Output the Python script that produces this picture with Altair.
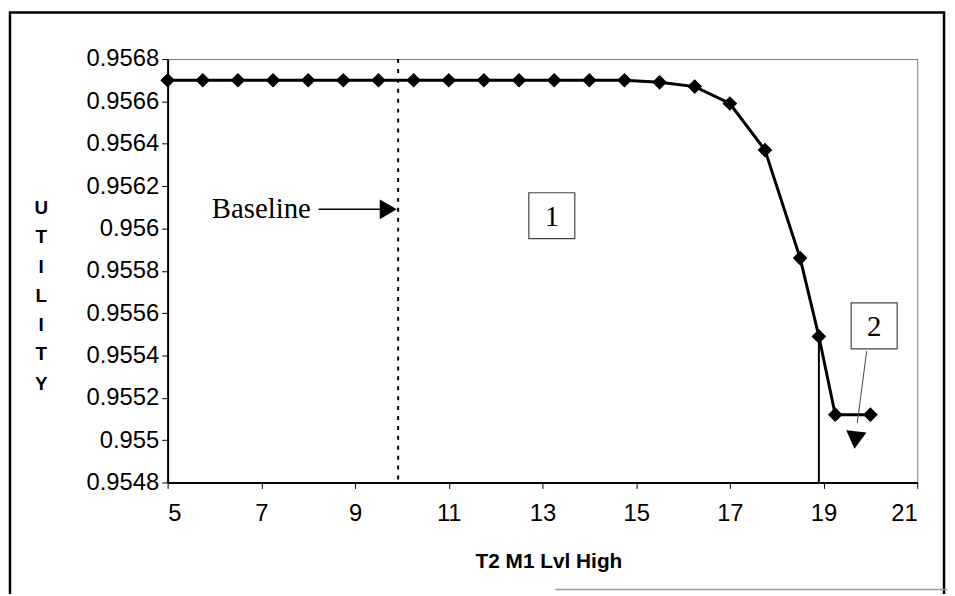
import altair as alt
import pandas as pd

# ---- data ----
x_vals = [5, 5.75, 6.5, 7.25, 8, 8.75, 9.5, 10.25, 11, 11.75, 12.5, 13.25, 14,
          14.75, 15.5, 16.25, 17, 17.75, 18.5, 18.9, 19.25, 20]
utility = [0.95670, 0.95670, 0.95670, 0.95670, 0.95670, 0.95670, 0.95670, 0.95670,
           0.95670, 0.95670, 0.95670, 0.95670, 0.95670, 0.95670, 0.95669, 0.95667,
           0.95659, 0.95637, 0.95586, 0.95549, 0.95512, 0.95512]

x_ticks = [5, 7, 9, 11, 13, 15, 17, 19, 21]
y_ticks = [0.9548, 0.955, 0.9552, 0.9554, 0.9556, 0.9558, 0.956, 0.9562, 0.9564, 0.9566, 0.9568]

baseline_x = [9.92]
cutoff_x = [18.9]
cutoff_y = [0.95549]

# annotations
baseline_label = ["Baseline"]
baseline_label_xy = [7.0, 0.95609]
baseline_arrow = [8.22, 9.55, 0.95609]      # x start, x end, y
baseline_head = [9.71, 0.95609]
box_labels = ["1", "2"]
box_x = [13.2, 20.08]
box_y = [0.95606, 0.95554]
arrow2 = [19.92, 0.95542, 19.72, 0.95508]   # x, y, x2, y2
arrow2_head = [19.68, 0.95500]

FONT = "Liberation Sans"
SERIF = "Liberation Serif"

xs = alt.Scale(domain=[5, 21], nice=False, zero=False)
ys = alt.Scale(domain=[0.9548, 0.9568], nice=False, zero=False)

df = pd.DataFrame({"x": x_vals, "u": utility})

base_line = alt.Chart(df).mark_line(color="black", strokeWidth=3).encode(
    x=alt.X("x:Q", scale=xs, axis=alt.Axis(
        values=x_ticks, title="T2 M1 Lvl High", grid=False,
        labelFont=FONT, labelFontSize=24, labelColor="black", labelPadding=13,
        tickSize=6, tickColor="black", domainColor="black", domainWidth=2,
        titleFont=FONT, titleFontSize=21, titleFontWeight="bold", titleColor="black",
        titleX=384, titleAlign="center", titleY=80, titleBaseline="middle")),
    y=alt.Y("u:Q", scale=ys, axis=alt.Axis(
        values=y_ticks, format=".4~f", grid=False,
        title=["U", "T", "I", "L", "I", "T", "Y"],
        titleAngle=0, titleX=-128, titleY=141, titleAlign="center", titleBaseline="top",
        titleLineHeight=29.5, titleFont=FONT, titleFontSize=19, titleFontWeight="bold",
        titleColor="black",
        labelFont=FONT, labelFontSize=24, labelColor="black", labelPadding=3,
        tickSize=6, tickColor="black", domainColor="black", domainWidth=2)),
)

points = alt.Chart(df).mark_point(shape="diamond", filled=True, color="black",
                                  size=220, opacity=1).encode(
    x=alt.X("x:Q", scale=xs), y=alt.Y("u:Q", scale=ys))

base_rule = alt.Chart(pd.DataFrame({"x": baseline_x})).mark_rule(
    color="black", strokeWidth=2, strokeDash=[4, 6]).encode(x=alt.X("x:Q", scale=xs))

cut_rule = alt.Chart(pd.DataFrame({"x": cutoff_x, "y": [0.9548], "y2": cutoff_y})).mark_rule(
    color="black", strokeWidth=2).encode(
    x=alt.X("x:Q", scale=xs), y=alt.Y("y:Q", scale=ys), y2="y2:Q")

bl_text = alt.Chart(pd.DataFrame({"x": [baseline_label_xy[0]], "y": [baseline_label_xy[1]],
                                  "t": baseline_label})).mark_text(
    font=SERIF, fontSize=29, color="black", align="center", baseline="middle").encode(
    x=alt.X("x:Q", scale=xs), y=alt.Y("y:Q", scale=ys), text="t:N")

bl_arrow = alt.Chart(pd.DataFrame({"x": [baseline_arrow[0]], "x2": [baseline_arrow[1]],
                                   "y": [baseline_arrow[2]]})).mark_rule(
    color="black", strokeWidth=1.5).encode(
    x=alt.X("x:Q", scale=xs), x2="x2:Q", y=alt.Y("y:Q", scale=ys))

bl_head = alt.Chart(pd.DataFrame({"x": [baseline_head[0]], "y": [baseline_head[1]]})).mark_point(
    shape="triangle-right", filled=True, color="black", size=400, opacity=1).encode(
    x=alt.X("x:Q", scale=xs), y=alt.Y("y:Q", scale=ys))

box_df = pd.DataFrame({"x": box_x, "y": box_y, "t": box_labels})
boxes = alt.Chart(box_df).mark_point(shape="square", filled=True, fill="white",
                                     stroke="#444", strokeWidth=1.2, size=2150, opacity=1).encode(
    x=alt.X("x:Q", scale=xs), y=alt.Y("y:Q", scale=ys))
box_text = alt.Chart(box_df).mark_text(font=SERIF, fontSize=29, color="black",
                                       align="center", baseline="middle", dy=1).encode(
    x=alt.X("x:Q", scale=xs), y=alt.Y("y:Q", scale=ys), text="t:N")

a2 = alt.Chart(pd.DataFrame({"x": [arrow2[0]], "y": [arrow2[1]],
                             "x2": [arrow2[2]], "y2": [arrow2[3]]})).mark_rule(
    color="#444", strokeWidth=1).encode(
    x=alt.X("x:Q", scale=xs), y=alt.Y("y:Q", scale=ys), x2="x2:Q", y2="y2:Q")
a2_head = alt.Chart(pd.DataFrame({"x": [arrow2_head[0]], "y": [arrow2_head[1]]})).mark_point(
    shape="triangle-down", filled=True, color="black", size=420, opacity=1, angle=6).encode(
    x=alt.X("x:Q", scale=xs), y=alt.Y("y:Q", scale=ys))

frame = alt.Chart(pd.DataFrame({"k": [0]})).mark_rect(
    fill=None, stroke="black", strokeWidth=2.5).encode(
    x=alt.value(-159), x2=alt.value(783), y=alt.value(-47), y2=alt.value(560))

bottom_edge = alt.Chart(pd.DataFrame({"k": [0]})).mark_rule(
    color="#999", strokeWidth=1.5).encode(
    x=alt.value(391), x2=alt.value(790), y=alt.value(535))

chart = alt.layer(
    frame, bottom_edge, base_rule, cut_rule, base_line, points, bl_text, bl_arrow, bl_head,
    a2, boxes, box_text, a2_head
).properties(
    width=756, height=427,
    padding={"left": 161, "top": 49, "right": 30, "bottom": 110},
    autosize=alt.AutoSizeParams(type="none"),
    background="white",
).configure_view(stroke="#777", strokeWidth=1)

chart.save("out.html", embed_options={"renderer": "svg", "actions": False})
